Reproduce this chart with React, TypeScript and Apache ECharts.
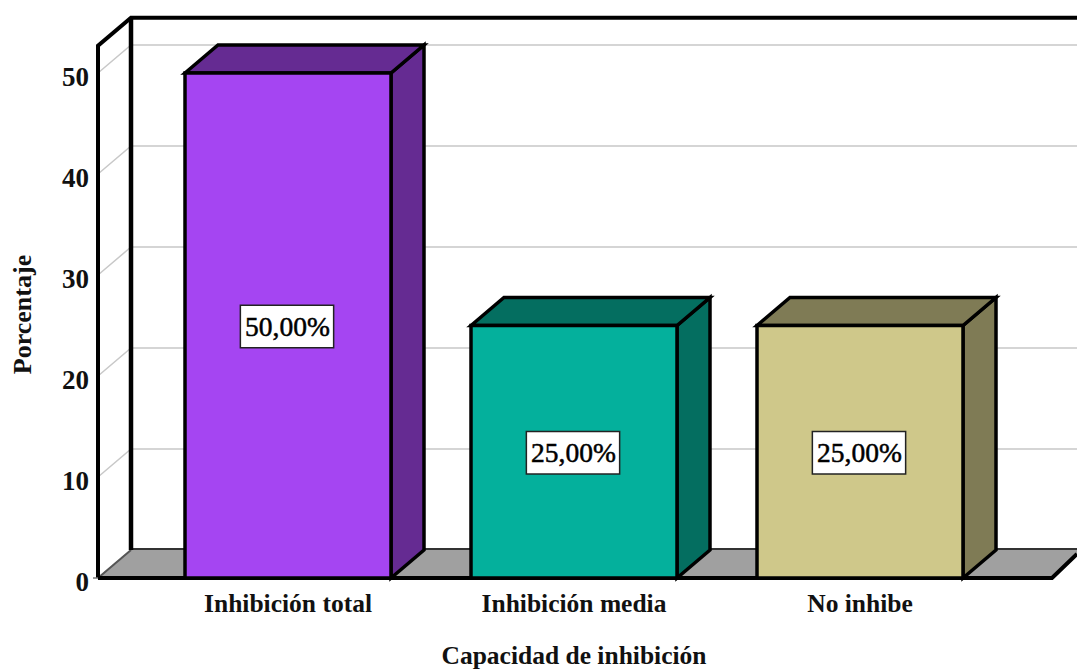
import React, { useEffect, useRef } from "react";
import * as echarts from "echarts";

const categories = ["Inhibición total", "Inhibición media", "No inhibe"];
const percentages = [50, 25, 25];
const percentLabels = ["50,00%", "25,00%", "25,00%"];
const faceColors = ["#a545f2", "#04b09c", "#cfc88a"];
const sideColors = ["#652b92", "#046e60", "#7f7b55"];
const gridTicks = [0, 10, 20, 30, 40, 50];

const FONT = "'Liberation Serif', serif";
const DX = 33;
const DY = -28;
const LEFT = 98;
const RIGHT = 1052;
const TOP_VALUE = 52.7;
const BAR_WIDTH = 206;

export default function App() {
  const ref = useRef<HTMLDivElement>(null);

  useEffect(() => {
    const chart = echarts.init(ref.current!, undefined, { renderer: "svg" });

    // Back wall, floor and frame of the 3D box, positioned through the value axis.
    const renderFrame = (_: any, api: any) => {
      const y0 = api.coord([0, 0])[1];
      const yTop = api.coord([0, TOP_VALUE])[1];
      const rightBack = 1081;
      return {
        type: "group",
        children: [
          {
            type: "polygon",
            shape: { points: [[LEFT, y0], [LEFT + DX, y0 + DY], [rightBack, y0 + DY], [RIGHT, y0]] },
            style: { fill: "#a0a0a0", stroke: "none" },
          },
          {
            type: "line",
            shape: { x1: LEFT + DX, y1: y0 + DY - 1, x2: 1077, y2: y0 + DY - 1 },
            style: { stroke: "#333", lineWidth: 2 },
          },
          {
            type: "line",
            shape: { x1: LEFT, y1: y0, x2: LEFT + DX, y2: y0 + DY },
            style: { stroke: "#555", lineWidth: 2 },
          },
          {
            type: "polyline",
            shape: { points: [[LEFT, y0], [LEFT, yTop], [LEFT + DX, yTop + DY], [1077, yTop + DY]] },
            style: { stroke: "#000", lineWidth: 4, fill: "none" },
          },
          {
            type: "line",
            shape: { x1: LEFT + DX, y1: yTop + DY, x2: LEFT + DX, y2: y0 + DY },
            style: { stroke: "#000", lineWidth: 4.5 },
          },
          {
            type: "polyline",
            shape: { points: [[LEFT, y0], [RIGHT, y0], [1077, y0 - 24]] },
            style: { stroke: "#000", lineWidth: 4, fill: "none" },
          },
          {
            type: "line",
            shape: { x1: LEFT - 5, y1: y0, x2: LEFT, y2: y0 },
            style: { stroke: "#777", lineWidth: 1.5 },
          },
        ],
      };
    };

    // One gridline per tick: slanted along the side wall, then across the back wall.
    const renderGridline = (_: any, api: any) => {
      const y = api.coord([0, api.value(1)])[1];
      return {
        type: "polyline",
        shape: { points: [[LEFT, y], [LEFT + DX, y + DY], [1077, y + DY]] },
        style: { stroke: "#c8c8c8", lineWidth: 1.5, fill: "none" },
      };
    };

    const renderBar = (params: any, api: any) => {
      const i = api.value(0);
      const [cx, yTop] = api.coord([i, api.value(1)]);
      const y0 = api.coord([i, 0])[1];
      const x1 = cx - BAR_WIDTH / 2;
      const x2 = cx + BAR_WIDTH / 2;
      const edge = { stroke: "#000", lineWidth: 3.5, lineJoin: "miter" };
      return {
        type: "group",
        children: [
          {
            type: "polygon",
            shape: { points: [[x2, yTop], [x2 + DX, yTop + DY], [x2 + DX, y0 + DY], [x2, y0]] },
            style: { fill: sideColors[i], ...edge },
          },
          {
            type: "polygon",
            shape: { points: [[x1, yTop], [x1 + DX, yTop + DY], [x2 + DX, yTop + DY], [x2, yTop]] },
            style: { fill: sideColors[i], ...edge },
          },
          {
            type: "rect",
            shape: { x: x1, y: yTop, width: BAR_WIDTH, height: y0 - yTop },
            style: { fill: faceColors[i], ...edge },
          },
          {
            type: "text",
            x: cx - 1,
            y: (yTop + y0) / 2 + 1,
            style: {
              text: percentLabels[params.dataIndex],
              font: `27.5px ${FONT}`,
              fill: "#000",
              stroke: "#000",
              lineWidth: 0.5,
              align: "center",
              verticalAlign: "middle",
              backgroundColor: "#fff",
              borderColor: "#222",
              borderWidth: 1.5,
              padding: [7, 3, 6, 4],
            },
          },
        ],
      };
    };

    chart.setOption({
      animation: false,
      grid: { left: 145, right: 74, top: 73, bottom: 91, outerBoundsMode: "none" },
      xAxis: {
        type: "category",
        data: categories,
        axisLine: { show: false },
        axisTick: { show: false },
        axisLabel: {
          color: "#111",
          fontFamily: FONT,
          fontWeight: "bold",
          fontSize: 25.5,
          margin: 12,
        },
        name: "Capacidad de inhibición",
        nameLocation: "middle",
        nameGap: 64,
        nameTextStyle: { color: "#111", fontFamily: FONT, fontWeight: "bold", fontSize: 25.5 },
      },
      yAxis: {
        type: "value",
        min: 0,
        max: 50,
        interval: 10,
        axisLine: { show: false },
        axisTick: { show: false },
        splitLine: { show: false },
        axisLabel: {
          color: "#111",
          fontFamily: FONT,
          fontWeight: "bold",
          fontSize: 27,
          margin: 56,
          verticalAlign: "top",
          lineHeight: 8,
        },
        name: "Porcentaje",
        nameLocation: "middle",
        nameGap: 110,
        nameTextStyle: {
          color: "#111",
          fontFamily: FONT,
          fontWeight: "bold",
          fontSize: 26,
          padding: [0, 0, 0, 22],
        },
      },
      series: [
        {
          type: "custom",
          silent: true,
          clip: false,
          z: 1,
          data: gridTicks.map((t) => [0, t]),
          renderItem: renderGridline,
        },
        {
          type: "custom",
          silent: true,
          clip: false,
          z: 2,
          data: [[0, 0]],
          renderItem: renderFrame,
        },
        {
          type: "custom",
          silent: true,
          clip: false,
          z: 3,
          data: percentages.map((v, i) => [i, v]),
          renderItem: renderBar,
        },
      ],
    });

    return () => chart.dispose();
  }, []);

  return <div ref={ref} style={{ position: "fixed", left: 0, top: 0, width: 1077, height: 669, background: "#fff" }} />;
}
